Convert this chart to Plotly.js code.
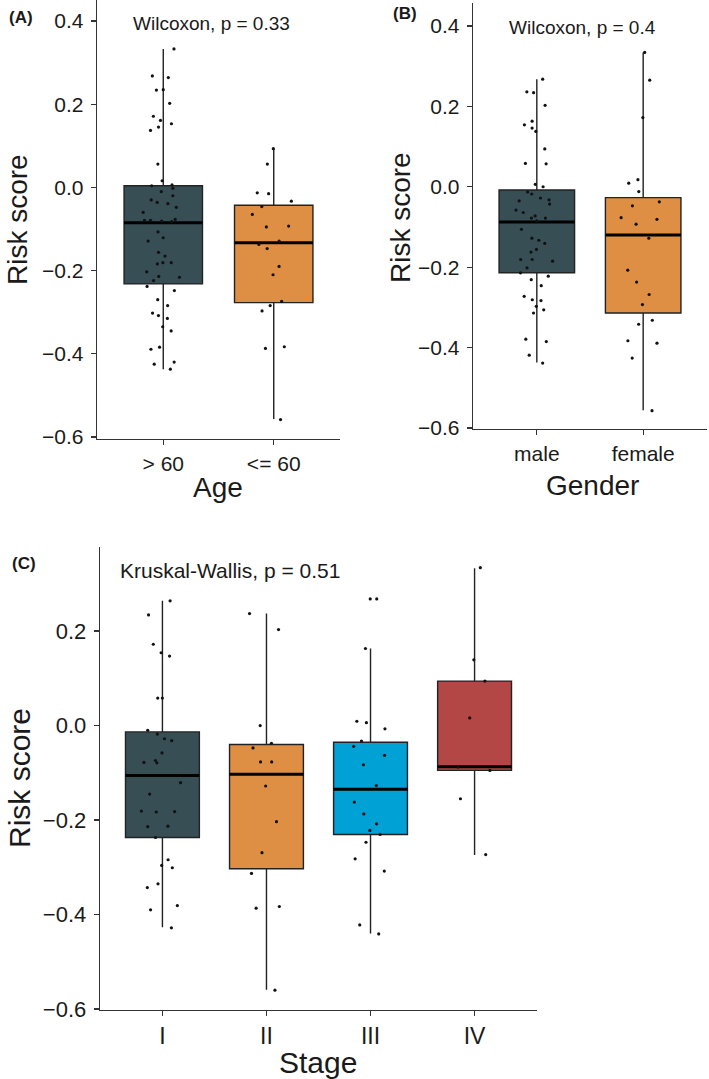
<!DOCTYPE html>
<html><head><meta charset="utf-8">
<script src="https://cdn.plot.ly/plotly-3.0.1.min.js"></script>
<style>html,body{margin:0;padding:0;background:#fff}#chart{width:709px;height:1079px}</style>
</head><body><div id="chart"></div>
<script>
// ---------------- DATA ----------------
// Panel A: Age
const ageGroups = ['> 60', '<= 60'];
const ageOld = [0.333, 0.268, 0.264, 0.234, 0.235, 0.202, 0.171, 0.153, 0.161, 0.145, 0.137, 0.056, 0.016, 0.006, 0.004, -0.002, -0.010, -0.020, -0.030, -0.036, -0.039, -0.048, -0.060, -0.077, -0.079, -0.079, -0.081, -0.082, -0.107, -0.121, -0.129, -0.156, -0.165, -0.181, -0.181, -0.184, -0.203, -0.214, -0.216, -0.224, -0.238, -0.248, -0.270, -0.284, -0.302, -0.308, -0.315, -0.335, -0.345, -0.384, -0.389, -0.420, -0.437, -0.425];
const ageYoung = [0.093, 0.056, -0.015, -0.013, -0.033, -0.046, -0.065, -0.093, -0.095, -0.129, -0.137, -0.147, -0.190, -0.210, -0.274, -0.284, -0.297, -0.383, -0.387, -0.558];
// box stats: [q1, median, q3, lower whisker, upper whisker]
const ageOldStats = [-0.232, -0.085, 0.004, -0.437, 0.333];
const ageYoungStats = [-0.277, -0.133, -0.043, -0.557, 0.093];

// Panel B: Gender
const genderGroups = ['male', 'female'];
const male = [0.2675, 0.236, 0.234, 0.2025, 0.163, 0.146, 0.154, 0.1375, 0.094, 0.057, 0.058, 0.006, 0.0, -0.018, -0.013, -0.028, -0.043, -0.035, -0.0325, -0.058, -0.064, -0.0725, -0.085, -0.078, -0.078, -0.106, -0.128, -0.133, -0.141, -0.156, -0.1625, -0.181, -0.181, -0.185, -0.2017, -0.214, -0.2225, -0.231, -0.246, -0.281, -0.2725, -0.283, -0.306, -0.314, -0.2975, -0.385, -0.419, -0.379, -0.4386];
const female = [0.334, 0.265, 0.172, 0.009, 0.0175, -0.012, -0.0475, -0.0375, -0.077, -0.081, -0.093, -0.128, -0.2075, -0.237, -0.268, -0.293, -0.342, -0.332, -0.389, -0.383, -0.426, -0.557];
const maleStats = [-0.214, -0.0875, -0.008, -0.437, 0.2675];
const femaleStats = [-0.314, -0.120, -0.027, -0.556, 0.334];

// Panel C: Stage
const stageGroups = ['I', 'II', 'III', 'IV'];
const stageI = [0.264, 0.234, 0.172, 0.154, 0.147, 0.058, 0.058, -0.010, -0.018, -0.028, -0.032, -0.058, -0.074, -0.079, -0.078, -0.121, -0.145, -0.181, -0.182, -0.183, -0.213, -0.214, -0.237, -0.284, -0.296, -0.301, -0.343, -0.335, -0.390, -0.381, -0.428];
const stageII = [0.237, 0.203, 0.0, -0.0475, -0.0376, -0.077, -0.077, -0.128, -0.2035, -0.269, -0.313, -0.3865, -0.383, -0.560];
const stageIII = [0.268, 0.268, 0.163, 0.009, -0.007, 0.006, -0.033, -0.044, -0.063, -0.083, -0.127, -0.162, -0.187, -0.208, -0.222, -0.2305, -0.247, -0.282, -0.308, -0.422, -0.441];
const stageIV = [0.334, 0.139, 0.094, 0.016, -0.088, -0.095, -0.155, -0.273];
const stageIStats = [-0.237, -0.106, -0.0135, -0.427, 0.264];
const stageIIStats = [-0.303, -0.103, -0.040, -0.559, 0.237];
const stageIIIStats = [-0.2305, -0.135, -0.0355, -0.440, 0.163];
const stageIVStats = [-0.095, -0.087, 0.094, -0.274, 0.333];

const palette = ['#374E55', '#DF8F44', '#00A1D5', '#B24745'];

// ---------------- DRAWING ----------------
const W = 709, H = 1079;
const px = x => x / W, py = y => 1 - y / H;
const FONT = '"Liberation Sans", Arial, Helvetica, sans-serif';
const BOXW = 0.71;
const traces = [];

function addGroup(cat, vals, st, color, xa, ya, jit) {
  traces.push({type: 'box', x: [cat], q1: [st[0]], median: [st[1]], q3: [st[2]],
    lowerfence: [st[3]], upperfence: [st[4]], fillcolor: color,
    line: {color: '#222', width: 1.4}, whiskerwidth: 0, width: BOXW,
    boxpoints: false, xaxis: xa, yaxis: ya, hoverinfo: 'skip'});
  // thick median line
  traces.push({type: 'box', x: [cat], q1: [st[1]], median: [st[1]], q3: [st[1]],
    lowerfence: [st[1]], upperfence: [st[1]], fillcolor: 'rgba(0,0,0,0)',
    line: {color: '#000', width: 3}, whiskerwidth: 0, width: BOXW,
    boxpoints: false, xaxis: xa, yaxis: ya, hoverinfo: 'skip'});
  // jittered points
  traces.push({type: 'box', x: vals.map(() => cat), y: vals, boxpoints: 'all',
    jitter: jit, pointpos: 0, width: BOXW, fillcolor: 'rgba(0,0,0,0)',
    line: {color: 'rgba(0,0,0,0)', width: 0}, marker: {color: '#111', size: 3.2},
    xaxis: xa, yaxis: ya, hoverinfo: 'skip'});
}

addGroup(ageGroups[0], ageOld, ageOldStats, palette[0], 'x', 'y', 0.6);
addGroup(ageGroups[1], ageYoung, ageYoungStats, palette[1], 'x', 'y', 0.6);
addGroup(genderGroups[0], male, maleStats, palette[0], 'x2', 'y2', 0.6);
addGroup(genderGroups[1], female, femaleStats, palette[1], 'x2', 'y2', 0.6);
addGroup(stageGroups[0], stageI, stageIStats, palette[0], 'x3', 'y3', 0.6);
addGroup(stageGroups[1], stageII, stageIIStats, palette[1], 'x3', 'y3', 0.6);
addGroup(stageGroups[2], stageIII, stageIIIStats, palette[2], 'x3', 'y3', 0.6);
addGroup(stageGroups[3], stageIV, stageIVStats, palette[3], 'x3', 'y3', 0.6);

function xAxis(dom, cats, anchor, fs) {
  return {domain: dom, anchor: anchor, type: 'category', categoryorder: 'array', categoryarray: cats,
    range: [-0.6, cats.length - 1 + 0.6], showline: true, linecolor: '#333', linewidth: 1.3,
    ticks: 'outside', ticklen: 5, tickwidth: 1.3, tickcolor: '#333', showgrid: false, zeroline: false,
    tickfont: {family: FONT, size: fs, color: '#1a1a1a'}, fixedrange: true};
}
function yAxis(dom, rng, anchor, fs) {
  return {domain: dom, anchor: anchor, range: rng, dtick: 0.2, tick0: 0, tickformat: '.1f',
    showline: true, linecolor: '#333', linewidth: 1.3, ticks: 'outside', ticklen: 5, tickwidth: 1.3,
    tickcolor: '#333', showgrid: false, zeroline: false, ticklabelstandoff: 3,
    tickfont: {family: FONT, size: fs, color: '#1a1a1a'}, fixedrange: true};
}

function ann(text, x, y, size, opts) {
  return Object.assign({text: text, xref: 'paper', yref: 'paper', x: px(x), y: py(y),
    xanchor: 'center', yanchor: 'middle', showarrow: false,
    font: {family: FONT, size: size, color: '#1a1a1a'}}, opts || {});
}

const layout = {
  width: W, height: H, margin: {l: 0, r: 0, t: 0, b: 0},
  paper_bgcolor: '#fff', plot_bgcolor: 'rgba(0,0,0,0)',
  showlegend: false, boxmode: 'overlay',
  xaxis: xAxis([px(97), px(340)], ageGroups, 'y', 21),
  yaxis: yAxis([py(439), py(0)], [-0.6048, 0.4505], 'x', 21),
  xaxis2: xAxis([px(473), px(707)], genderGroups, 'y2', 21),
  yaxis2: yAxis([py(429), py(3)], [-0.6025, 0.457], 'x2', 21),
  xaxis3: xAxis([px(100), px(537)], stageGroups, 'y3', 23),
  yaxis3: yAxis([py(1010), py(547)], [-0.602, 0.3778], 'x3', 22),
  annotations: [
    ann('<b>(A)</b>', 21, 17, 17),
    ann('<b>(B)</b>', 405, 14, 17),
    ann('<b>(C)</b>', 24, 563, 17),
    ann('Wilcoxon, p = 0.33', 212, 23, 19),
    ann('Wilcoxon, p = 0.4', 582, 27, 19),
    ann('Kruskal-Wallis, p = 0.51', 230, 570, 21),
    ann('Risk score', 18, 220, 28, {textangle: -90}),
    ann('Risk score', 400, 218, 28, {textangle: -90}),
    ann('Risk score', 19, 778, 30, {textangle: -90}),
    ann('Age', 218, 487, 28),
    ann('Gender', 592, 485, 28),
    ann('Stage', 318, 1062, 30)
  ]
};

Plotly.newPlot('chart', traces, layout, {staticPlot: true, displayModeBar: false});
</script>
</body></html>
